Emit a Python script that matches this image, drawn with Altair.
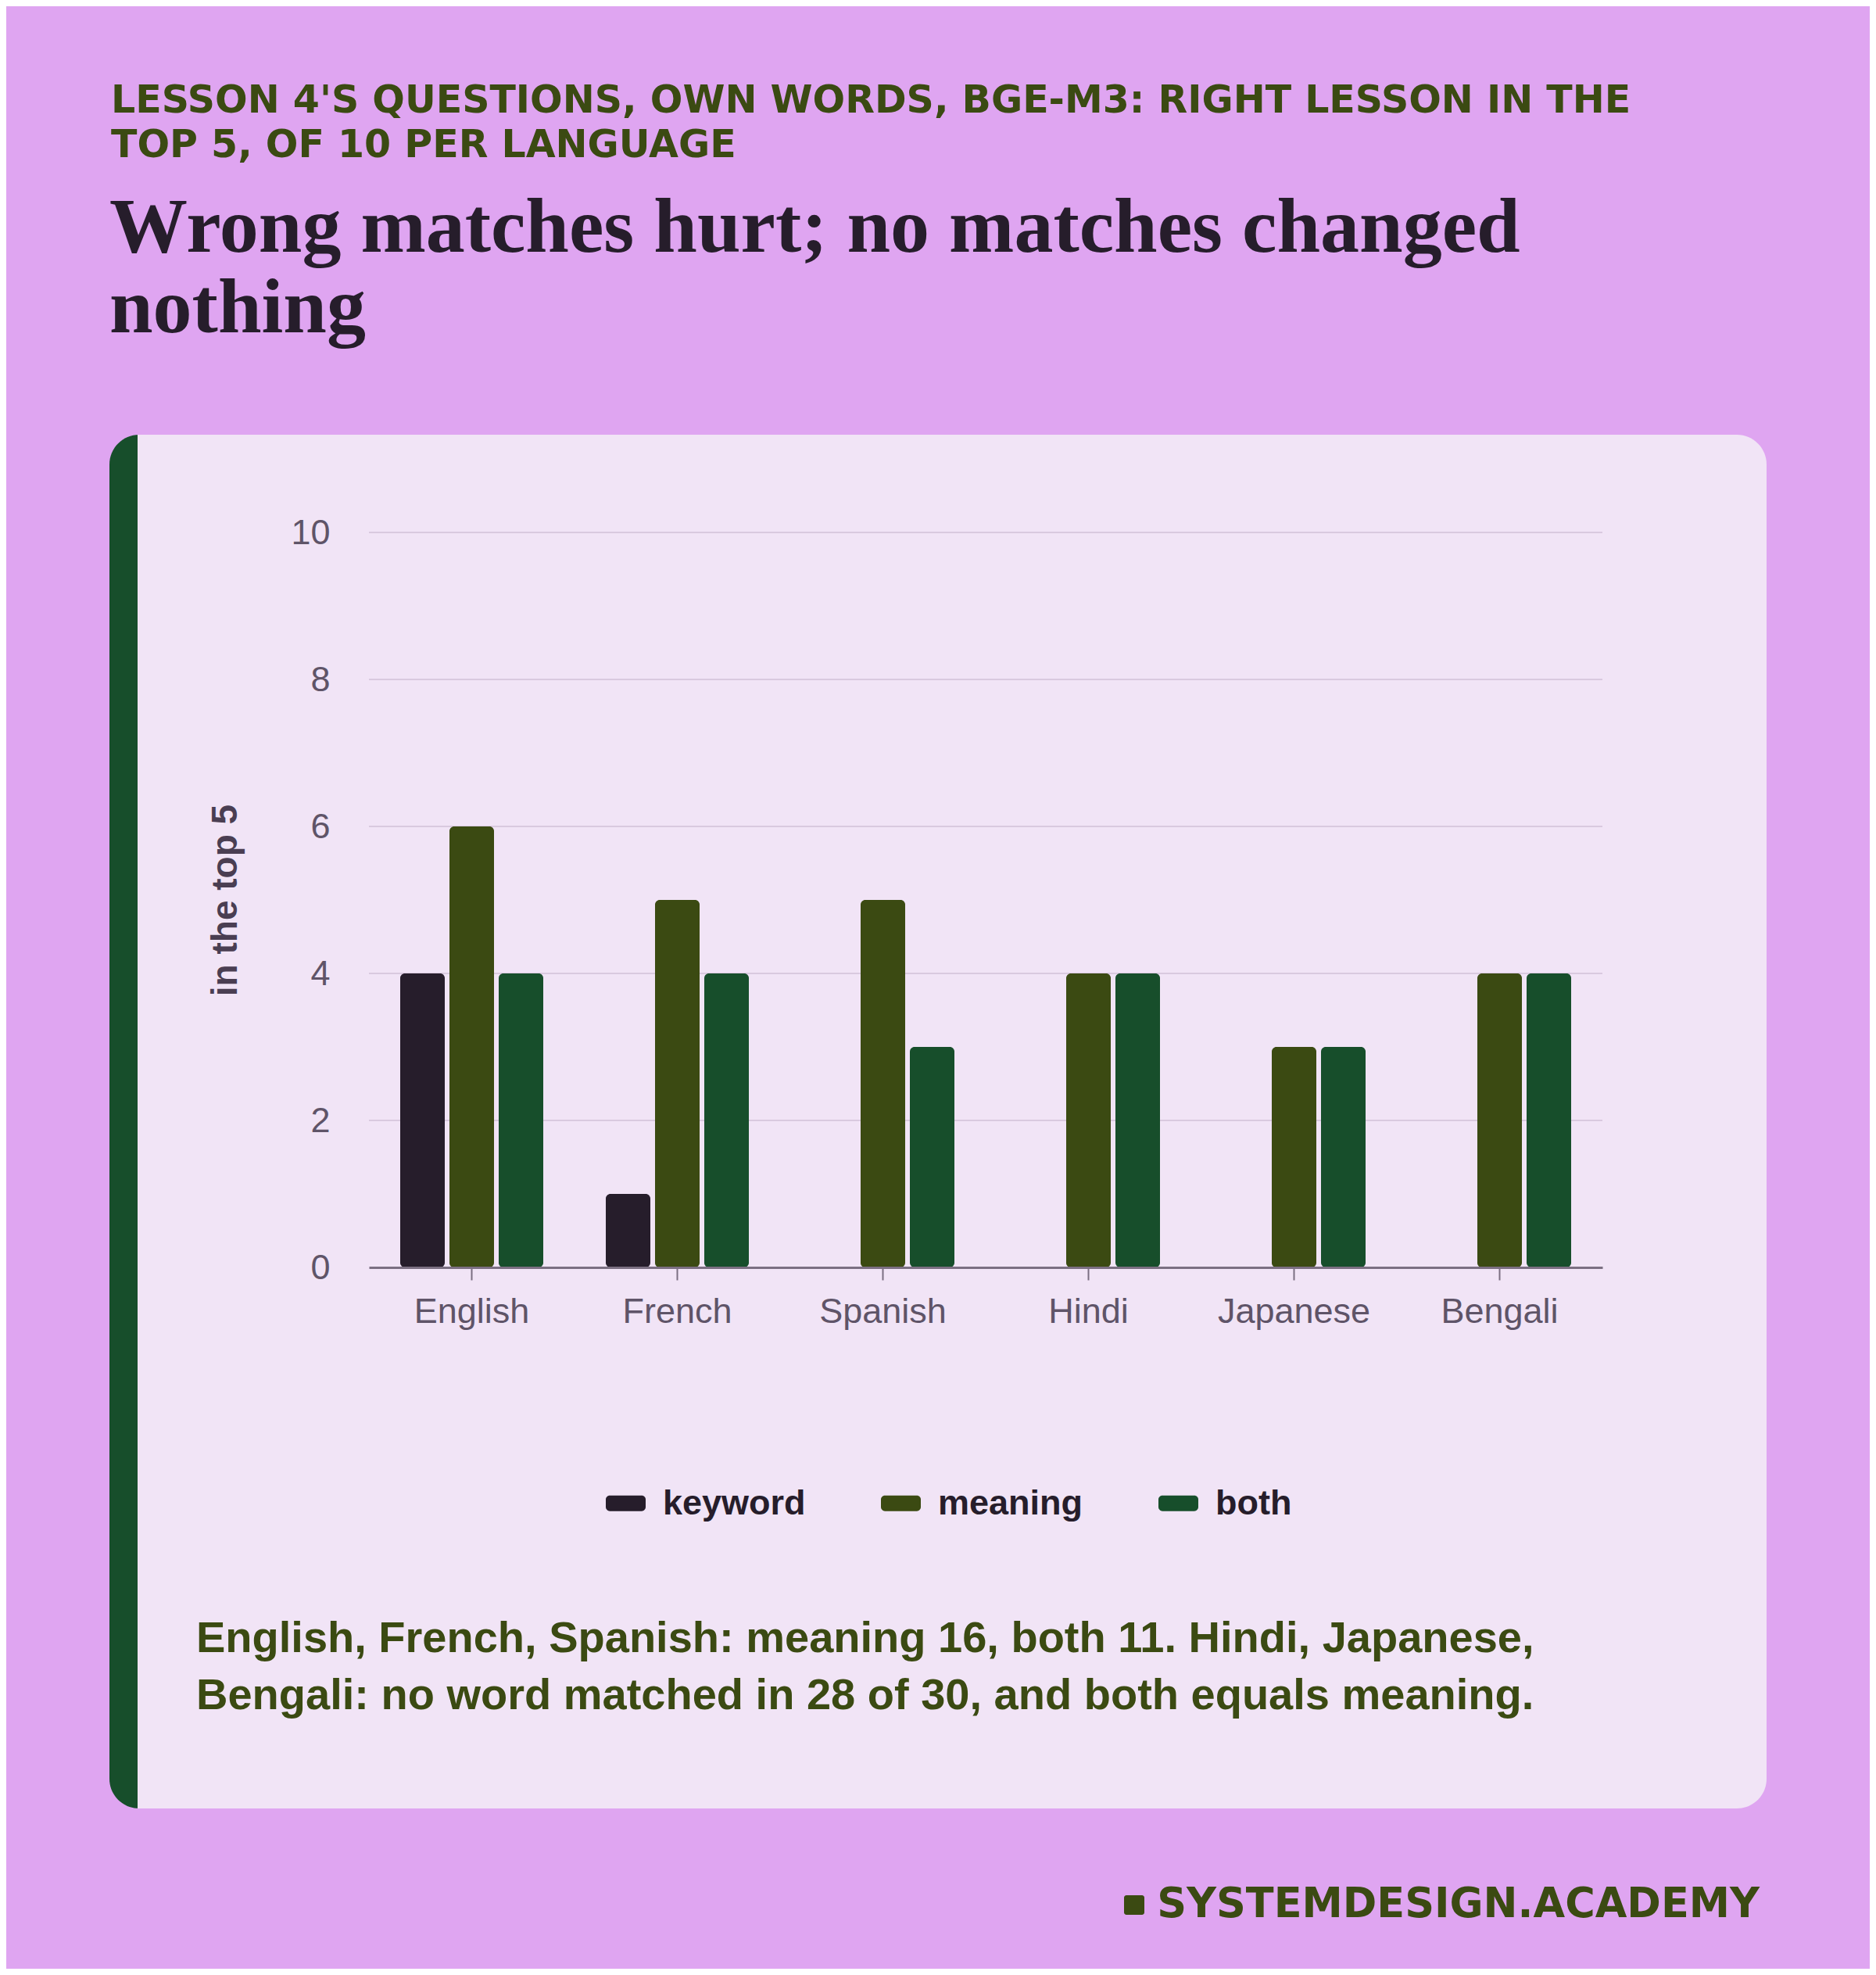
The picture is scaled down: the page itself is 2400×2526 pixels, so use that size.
import altair as alt
import pandas as pd

# ---- data ----
languages = ["English", "French", "Spanish", "Hindi", "Japanese", "Bengali"]
methods = ["keyword", "meaning", "both"]
keyword = [4, 1, 0, 0, 0, 0]
meaning = [6, 5, 5, 4, 3, 4]
both = [4, 4, 3, 4, 3, 4]
y_ticks = [0, 2, 4, 6, 8, 10]
grid_values = [2, 4, 6, 8, 10]

kicker = ["LESSON 4'S QUESTIONS, OWN WORDS, BGE-M3: RIGHT LESSON IN THE",
          "TOP 5, OF 10 PER LANGUAGE"]
headline = ["Wrong matches hurt; no matches changed", "nothing"]
note = ["English, French, Spanish: meaning 16, both 11. Hindi, Japanese,",
        "Bengali: no word matched in 28 of 30, and both equals meaning."]
brand = "SYSTEMDESIGN.ACADEMY"
y_title = "in the top 5"

# ---- styles ----
BG = "#dfa5f1"
CARD = "#f1e4f6"
STRIPE = "#174e2b"
C_KEY = "#261d2b"
C_MEAN = "#3b4a12"
C_BOTH = "#174e2b"
DARK = "#261d2b"
OLIVE = "#3b4a12"
AXIS_LABEL = "#5f5468"
AXIS_TITLE = "#4a3e52"
DOMAIN = "#7b6f82"
GRID = "#d9c9df"
SANS = "Liberation Sans"

W, H = 1578, 940

rows = []
for i, lang in enumerate(languages):
    for m, vals in zip(methods, [keyword, meaning, both]):
        rows.append({"language": lang, "method": m, "value": vals[i]})
df = pd.DataFrame(rows)
grid_df = pd.DataFrame({"value": grid_values})
one = pd.DataFrame({"a": [0]})

bg = alt.Chart(one).mark_rect(color=BG).encode(
    x=alt.value(-464), x2=alt.value(1920), y=alt.value(-673), y2=alt.value(1837))
stripe = alt.Chart(one).mark_rect(color=STRIPE, cornerRadius=38).encode(
    x=alt.value(-332), x2=alt.value(-72), y=alt.value(-125), y2=alt.value(1632))
card = alt.Chart(one).mark_rect(color=CARD, cornerRadiusTopRight=38,
                                cornerRadiusBottomRight=38).encode(
    x=alt.value(-296), x2=alt.value(1788), y=alt.value(-125), y2=alt.value(1632))

yscale = alt.Scale(domain=[0, 10], nice=False)
yaxis = alt.Axis(values=y_ticks, grid=False, domain=False, ticks=False,
                 tickSize=0, zindex=1, labelPadding=50, labelFont=SANS,
                 labelFontSize=45, labelColor=AXIS_LABEL,
                 title=y_title, titleFont=SANS, titleFontSize=46,
                 titleFontWeight="bold", titleColor=AXIS_TITLE,
                 titleAngle=-90, titleAlign="center",
                 titleBaseline="alphabetic", titleX=-170, titleY=470)

grid = alt.Chart(grid_df).mark_rule(color=GRID, strokeWidth=2).encode(
    y=alt.Y("value:Q", scale=yscale, axis=yaxis))

sym = ("M-0.8,-0.39 L0.8,-0.39 A0.2,0.2 0 0 1 1,-0.19 L1,0.19 "
       "A0.2,0.2 0 0 1 0.8,0.39 L-0.8,0.39 A0.2,0.2 0 0 1 -1,0.19 "
       "L-1,-0.19 A0.2,0.2 0 0 1 -0.8,-0.39 Z")

bars = alt.Chart(df).mark_bar(cornerRadius=6).encode(
    x=alt.X("language:N", sort=languages,
            scale=alt.Scale(paddingInner=0.304, paddingOuter=0.152),
            axis=alt.Axis(title=None, labelAngle=0, grid=False, zindex=1,
                          domainColor=DOMAIN, domainWidth=3,
                          tickColor=DOMAIN, tickWidth=2, tickSize=16,
                          labelPadding=18, labelFont=SANS, labelFontSize=45,
                          labelColor=AXIS_LABEL, labelLimit=400)),
    xOffset=alt.XOffset("method:N", sort=methods,
                        scale=alt.Scale(paddingInner=0.095, paddingOuter=0)),
    y=alt.Y("value:Q", scale=yscale, axis=yaxis),
    color=alt.Color("method:N", sort=methods,
                    scale=alt.Scale(domain=methods, range=[C_KEY, C_MEAN, C_BOTH]),
                    legend=alt.Legend(title=None, orient="none", legendX=303,
                                      legendY=1216, direction="horizontal",
                                      symbolType=sym, symbolSize=2601,
                                      symbolStrokeWidth=0, symbolOpacity=1,
                                      labelFont=SANS, labelFontSize=45,
                                      labelFontWeight="bold", labelColor=DARK,
                                      labelOffset=22, labelLimit=400,
                                      columnPadding=95, padding=0)),
)

kicker_t = alt.Chart(one).mark_text(
    align="left", baseline="alphabetic", font="DejaVu Sans", fontWeight="bold",
    fontSize=49, lineHeight=57, color=OLIVE).encode(
    x=alt.value(-330), y=alt.value(-537), text=alt.value(kicker))

head_t = alt.Chart(one).mark_text(
    align="left", baseline="alphabetic", font="Liberation Serif", fontWeight="bold",
    fontSize=100, lineHeight=103, color=DARK).encode(
    x=alt.value(-332), y=alt.value(-359), text=alt.value(headline))

note_t = alt.Chart(one).mark_text(
    align="left", baseline="alphabetic", font=SANS, fontWeight="bold",
    fontSize=56, lineHeight=73, color=OLIVE).encode(
    x=alt.value(-221), y=alt.value(1432), text=alt.value(note))

brand_sq = alt.Chart(one).mark_rect(color=OLIVE, cornerRadius=3).encode(
    x=alt.value(966), x2=alt.value(992), y=alt.value(1743), y2=alt.value(1768))

brand_t = alt.Chart(one).mark_text(
    align="right", baseline="alphabetic", font="DejaVu Sans", fontWeight="bold",
    fontSize=52.5, color=OLIVE).encode(
    x=alt.value(1779), y=alt.value(1771), text=alt.value(brand))

chart = alt.layer(bg, stripe, card, grid, bars, kicker_t, head_t, note_t,
                  brand_sq, brand_t).properties(
    width=W, height=H, padding=0, background=BG
).configure_view(strokeWidth=0)

chart.save("out.html", embed_options={"renderer": "svg", "actions": False})
